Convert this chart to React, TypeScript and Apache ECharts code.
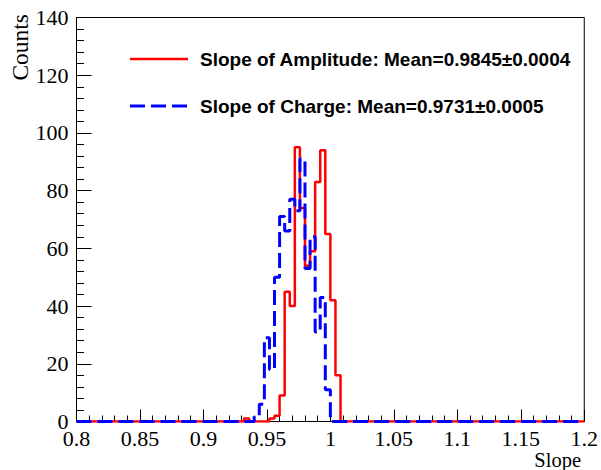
import React, { useEffect, useRef } from "react";
import * as echarts from "echarts";

// Histogram binning (100 bins of 0.004 from 0.8 to 1.2)
const binStart = 0.8;
const binWidth = 0.004;

// Counts per bin — Slope of Amplitude (red, solid)
const amplitudeCounts = [
  0, 0, 0, 0, 0, 0, 0, 0, 0, 0,
  0, 0, 0, 0, 0, 0, 0, 0, 0, 0,
  0, 0, 0, 0, 0, 0, 0, 0, 0, 0,
  0, 0, 0, 1, 0, 0, 0, 0, 1, 2,
  9, 45, 40, 95, 74, 54, 59, 83, 94, 65,
  42, 16, 0, 0, 0, 0, 0, 0, 0, 0,
  0, 0, 0, 0, 0, 0, 0, 0, 0, 0,
  0, 0, 0, 0, 0, 0, 0, 0, 0, 0,
  0, 0, 0, 0, 0, 0, 0, 0, 0, 0,
  0, 0, 0, 0, 0, 0, 0, 0, 0, 0,
];

// Counts per bin — Slope of Charge (blue, dashed)
const chargeCounts = [
  0, 0, 0, 0, 0, 0, 0, 0, 0, 0,
  0, 0, 0, 0, 0, 0, 0, 0, 0, 0,
  0, 0, 0, 0, 0, 0, 0, 0, 0, 0,
  0, 0, 0, 0, 0, 2, 6, 29, 18, 50,
  71, 66, 77, 73, 91, 53, 64, 31, 43, 11,
  0, 0, 0, 0, 0, 0, 0, 0, 0, 0,
  0, 0, 0, 0, 0, 0, 0, 0, 0, 0,
  0, 0, 0, 0, 0, 0, 0, 0, 0, 0,
  0, 0, 0, 0, 0, 0, 0, 0, 0, 0,
  0, 0, 0, 0, 0, 0, 0, 0, 0, 0,
];

const seriesNames = [
  "Slope of Amplitude: Mean=0.9845\u00b10.0004",
  "Slope of Charge: Mean=0.9731\u00b10.0005",
];
const xTitle = "Slope";
const yTitle = "Counts";

function toSteps(counts: number[]): [number, number][] {
  const pts: [number, number][] = counts.map((c, i) => [
    +(binStart + i * binWidth).toFixed(4),
    c,
  ]);
  pts.push([+(binStart + counts.length * binWidth).toFixed(4), 0]);
  return pts;
}

export default function App() {
  const ref = useRef<HTMLDivElement>(null);
  useEffect(() => {
    if (!ref.current) return;
    const chart = echarts.init(ref.current, undefined, { renderer: "svg" });
    const serif = "Liberation Serif";
    const sans = "Liberation Sans";
    chart.setOption({
      animation: false,
      backgroundColor: "#fff",
      grid: {
        left: 76.5,
        right: 16,
        top: 17.5,
        bottom: 48.5,
        show: true,
        borderColor: "#000",
        borderWidth: 1,
      },
      xAxis: {
        type: "value",
        min: 0.8,
        max: 1.2,
        interval: 0.05,
        axisLine: { show: true, lineStyle: { color: "#000", width: 1 } },
        axisTick: { show: true, inside: true, length: 12, lineStyle: { color: "#000" } },
        minorTick: { show: true, splitNumber: 5, length: 6, lineStyle: { color: "#000" } },
        splitLine: { show: false },
        axisLabel: {
          color: "#000",
          fontFamily: serif,
          fontSize: 22,
          margin: 6,
          showMinLabel: true,
          showMaxLabel: true,
        },
      },
      yAxis: {
        type: "value",
        min: 0,
        max: 140,
        interval: 20,
        axisLine: { show: true, lineStyle: { color: "#000", width: 1 } },
        axisTick: { show: true, inside: true, length: 15, lineStyle: { color: "#000" } },
        minorTick: { show: true, splitNumber: 5, length: 7.5, lineStyle: { color: "#000" } },
        splitLine: { show: false },
        axisLabel: {
          color: "#000",
          fontFamily: serif,
          fontSize: 22,
          margin: 8,
        },
      },
      series: [
        {
          name: seriesNames[0],
          type: "line",
          step: "end",
          showSymbol: false,
          symbol: "none",
          data: toSteps(amplitudeCounts),
          lineStyle: { color: "#ff0000", width: 2.5 },
          z: 3,
        },
        {
          name: seriesNames[1],
          type: "line",
          step: "end",
          showSymbol: false,
          symbol: "none",
          data: toSteps(chargeCounts),
          lineStyle: { color: "#0000ff", width: 3, type: [15, 6] },
          z: 4,
        },
      ],
      graphic: [
        {
          type: "line",
          shape: { x1: 130, y1: 59, x2: 188, y2: 59 },
          style: { stroke: "#ff0000", lineWidth: 2.5 },
        },
        {
          type: "text",
          x: 200,
          y: 59,
          style: {
            text: seriesNames[0],
            fill: "#000",
            font: `bold 19px "${sans}"`,
            verticalAlign: "middle",
          },
        },
        {
          type: "line",
          shape: { x1: 130, y1: 106, x2: 188, y2: 106 },
          style: { stroke: "#0000ff", lineWidth: 3, lineDash: [15, 6] },
        },
        {
          type: "text",
          x: 200,
          y: 106,
          style: {
            text: seriesNames[1],
            fill: "#000",
            font: `bold 19px "${sans}"`,
            verticalAlign: "middle",
          },
        },
        {
          type: "text",
          x: 20,
          y: 14,
          rotation: Math.PI / 2,
          style: {
            text: yTitle,
            fill: "#000",
            font: `23.5px "${serif}"`,
            align: "right",
            verticalAlign: "middle",
          },
        },
        {
          type: "text",
          x: 581,
          y: 460,
          style: {
            text: xTitle,
            fill: "#000",
            font: `20.5px "${serif}"`,
            align: "right",
            verticalAlign: "middle",
          },
        },
      ],
    });
    return () => chart.dispose();
  }, []);
  return <div ref={ref} style={{ width: 601, height: 470, position: "absolute", left: 0, top: 0 }} />;
}
